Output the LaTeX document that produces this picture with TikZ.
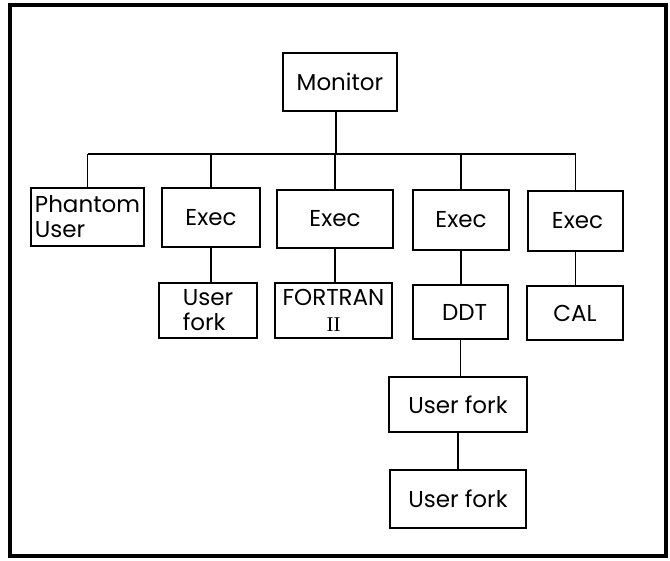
\documentclass[tikz,border=0pt]{standalone}
\usepackage{fontspec}
\setmainfont{Poppins}
\newfontfamily\romanfont{Liberation Serif}
\begin{document}
\begin{tikzpicture}[x=1pt,y=-1pt,
  box/.style={draw, line width=2.6pt, inner sep=0pt, anchor=center,
    font=\fontsize{23}{25}\selectfont},
  link/.style={line width=1.5pt},
  frame/.style={line width=3.2pt}]
\useasboundingbox (0,0) rectangle (670,561);
\draw[frame] (10,5) rectangle (666,556);

% top of the tree
\node[box, minimum width=114, minimum height=58] (mon) at (340,82) {Monitor};

% first level
\node[box, minimum width=113, minimum height=58, align=left] (ph) at (87.5,217) {Phantom\\User};
\node[box, minimum width=98,  minimum height=59] (e1) at (211,217.5) {Exec};
\node[box, minimum width=116, minimum height=58] (e2) at (335,219) {Exec};
\node[box, minimum width=96,  minimum height=60] (e3) at (461,220) {Exec};
\node[box, minimum width=95,  minimum height=60] (e4) at (575.5,221) {\hspace*{4pt}Exec};

% second level
\node[box, minimum width=98,  minimum height=55, align=left] (uf) at (208,310.5) {User\\fork};
\node[box, minimum width=117, minimum height=55, align=center] (ft) at (333.5,310.5) {FORTRAN\\[1pt]{\romanfont\fontsize{21}{22}\selectfont II}};
\node[box, minimum width=95,  minimum height=54] (ddt) at (460.5,312) {\hspace*{8pt}DDT};
\node[box, minimum width=96,  minimum height=54] (cal) at (575,313) {CAL};

% forks below DDT
\node[box, minimum width=138, minimum height=55] (uf1) at (458,404.5) {User fork};
\node[box, minimum width=136, minimum height=58] (uf2) at (458,499) {User fork};

% bus from the monitor to the first level
\coordinate (bus) at (336,154);
\draw[link] (ph.north |- bus) -- (e4.north |- bus);
\draw[link] (mon.south -| bus) -- (bus);
\draw[link] (ph.north) -- (ph.north |- bus);
\draw[link] (e1.north) -- (e1.north |- bus);
\draw[link] (e2.north) -- (e2.north |- bus);
\draw[link] (e3.north) -- (e3.north |- bus);
\draw[link] (e4.north) -- (e4.north |- bus);

% links to the second level
\draw[link] (e1.south) -- (e1.south |- uf.north);
\draw[link] (e2.south) -- (e2.south |- ft.north);
\draw[link] (e3.south) -- (e3.south |- ddt.north);
\draw[link] (e4.south) -- (e4.south |- cal.north);
\draw[link] (ddt.south) -- (ddt.south |- uf1.north);
\draw[link] (uf1.south) -- (uf1.south |- uf2.north);
\end{tikzpicture}
\end{document}
